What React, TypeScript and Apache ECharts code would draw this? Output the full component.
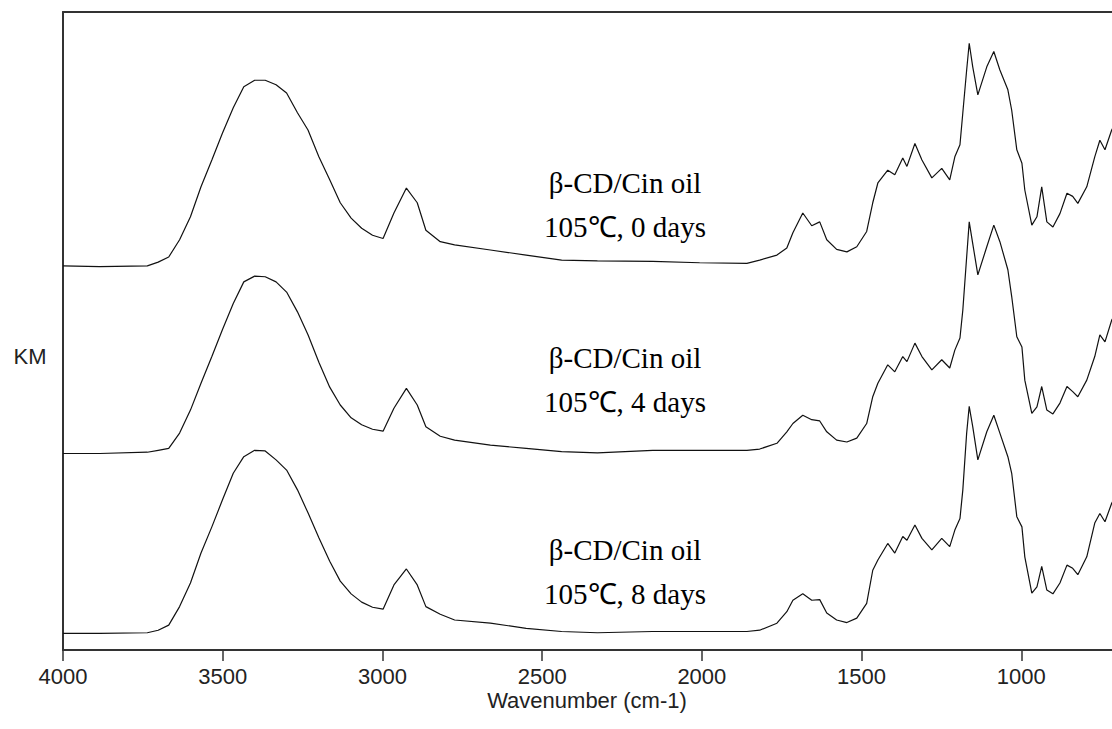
import { useEffect, useRef } from "react";
import * as echarts from "echarts";

// Wavenumber grid (cm-1)
const wavenumbers = [
  4000, 3885, 3736, 3702, 3669, 3635, 3601, 3568, 3534, 3501,
  3467, 3434, 3400, 3367, 3333, 3300, 3266, 3233, 3199, 3165,
  3132, 3098, 3065, 3031, 2998, 2964, 2925, 2891, 2864, 2819,
  2774, 2662, 2550, 2439, 2327,
  2154, 2007, 1859, 1819, 1765, 1734, 1715, 1684, 1656, 1631,
  1609, 1578, 1546, 1515, 1484, 1465, 1449, 1418, 1396, 1371,
  1358, 1333, 1311, 1280, 1249, 1224, 1208, 1192, 1183, 1171,
  1163, 1152, 1136, 1108, 1086, 1067, 1042, 1030, 1014, 998,
  989, 967, 951, 936, 920, 901, 879, 857, 839, 823,
  795, 770, 754, 738, 717, 700,
];

// KM values (offset spectra), 105 ℃ 0 days
const km0days = [
  60.2, 60.1, 60.2, 60.8, 61.6, 64.3, 67.9, 72.6, 76.8, 81.0,
  85.0, 88.3, 89.3, 89.3, 88.6, 87.3, 84.2, 81.5, 77.3, 73.7,
  70.1, 67.7, 66.1, 65.0, 64.5, 68.5, 72.4, 70.1, 65.8, 64.0,
  63.5, 62.7, 61.9, 61.1, 61.0,
  60.9, 60.7, 60.6, 61.1, 61.9, 63.0, 65.4, 68.5, 66.5, 67.1,
  64.3, 62.8, 62.4, 63.2, 65.6, 70.1, 73.2, 75.2, 74.5, 77.1,
  75.8, 79.4, 76.8, 74.0, 75.5, 73.7, 77.3, 79.2, 84.2, 90.9,
  95.1, 91.4, 87.0, 91.4, 93.8, 90.9, 87.8, 84.6, 78.4, 76.3,
  72.1, 66.6, 67.9, 72.6, 67.1, 66.3, 68.4, 71.6, 71.1, 70.0,
  72.6, 77.3, 79.9, 78.4, 81.5, 83.0,
];

// 105 ℃ 4 days
const km4days = [
  30.8, 30.8, 31.0, 31.3, 31.6, 34.0, 37.6, 41.8, 46.0, 50.2,
  54.3, 57.7, 58.6, 58.5, 57.7, 56.1, 53.0, 49.4, 45.1, 41.2,
  38.4, 36.4, 35.3, 34.6, 34.3, 37.9, 41.0, 38.4, 35.0, 33.5,
  32.9, 32.1, 31.6, 31.1, 30.9,
  31.3, 31.3, 31.3, 31.5, 32.4, 34.2, 35.5, 36.8, 36.1, 35.9,
  34.2, 32.9, 32.6, 33.2, 35.5, 39.7, 41.8, 44.7, 43.6, 46.0,
  45.2, 48.1, 46.0, 43.9, 45.5, 44.2, 47.0, 48.9, 53.3, 61.6,
  67.1, 63.7, 58.8, 63.2, 66.6, 64.0, 59.6, 55.4, 49.1, 47.5,
  42.3, 37.1, 38.1, 41.3, 37.6, 37.0, 38.7, 41.3, 40.5, 39.7,
  42.3, 46.0, 49.4, 48.3, 51.7, 53.2,
];

// 105 ℃ 8 days
const km8days = [
  2.6, 2.6, 2.7, 3.1, 3.9, 6.8, 10.5, 15.2, 19.3, 23.5,
  27.7, 30.3, 31.3, 31.2, 29.8, 28.2, 25.1, 21.5, 17.6, 13.9,
  10.8, 8.8, 7.5, 6.7, 6.4, 10.2, 12.7, 10.2, 6.8, 5.6,
  4.7, 4.2, 3.4, 2.9, 2.7,
  2.9, 2.9, 2.9, 3.1, 4.2, 6.0, 7.8, 8.8, 7.8, 7.9,
  5.8, 4.7, 4.3, 5.0, 7.3, 12.5, 14.1, 16.7, 15.2, 17.8,
  17.2, 19.6, 17.5, 15.7, 17.5, 16.2, 18.8, 20.6, 25.1, 34.0,
  38.2, 35.0, 29.8, 34.2, 36.8, 34.0, 30.3, 27.7, 20.9, 19.3,
  14.6, 8.9, 9.9, 13.1, 9.4, 8.8, 10.5, 13.3, 12.8, 11.8,
  14.6, 19.9, 21.4, 20.1, 23.0, 24.5,
];

const sampleName = "β-CD/Cin oil";
const sampleConditions = ["105℃, 0 days", "105℃, 4 days", "105℃, 8 days"];
const xAxisTitle = "Wavenumber (cm-1)";
const yAxisTitle = "KM";

export default function App() {
  const ref = useRef<HTMLDivElement>(null);

  useEffect(() => {
    if (!ref.current) return;
    const chart = echarts.init(ref.current, undefined, { renderer: "svg" });

    const mk = (arr: number[]) => wavenumbers.map((w, i) => [w, arr[i]]);
    const seriesArrays = [km0days, km4days, km8days];

    const labelBaseY = [183, 358, 550];
    const labelGraphics: any[] = [];
    sampleConditions.forEach((cond, i) => {
      labelGraphics.push({
        type: "text",
        x: 625,
        y: labelBaseY[i],
        style: {
          text: sampleName,
          font: "29px 'Liberation Serif', serif",
          fill: "#000",
          align: "center",
          verticalAlign: "middle",
        },
      });
      labelGraphics.push({
        type: "text",
        x: 625,
        y: labelBaseY[i] + 44,
        style: {
          text: cond,
          font: "29px 'Liberation Serif', serif",
          fill: "#000",
          align: "center",
          verticalAlign: "middle",
        },
      });
    });

    const axisColor = "#333";

    chart.setOption({
      animation: false,
      backgroundColor: "#fff",
      grid: {
        left: 63,
        top: 12,
        width: 1118,
        height: 638,
        containLabel: false,
        outerBoundsMode: "none",
      },
      xAxis: [
        {
          type: "value",
          inverse: true,
          min: 500,
          max: 4000,
          interval: 500,
          position: "bottom",
          axisLine: { show: true, onZero: false, lineStyle: { color: axisColor, width: 2 } },
          axisTick: { show: true, length: 11, lineStyle: { color: axisColor, width: 1.5 } },
          axisLabel: {
            show: true,
            color: "#222",
            fontFamily: "'Liberation Sans', Arial, sans-serif",
            fontSize: 22,
            lineHeight: 20,
            margin: 16,
            formatter: (v: number) => (v < 1000 ? "" : String(v)),
          },
          splitLine: { show: false },
        },
        {
          type: "value",
          inverse: true,
          min: 500,
          max: 4000,
          position: "top",
          axisLine: { show: true, onZero: false, lineStyle: { color: axisColor, width: 2 } },
          axisTick: { show: false },
          axisLabel: { show: false },
          splitLine: { show: false },
        },
      ],
      yAxis: {
        type: "value",
        min: 0,
        max: 100,
        axisLine: { show: true, onZero: false, lineStyle: { color: axisColor, width: 2 } },
        axisTick: { show: false },
        axisLabel: { show: false },
        splitLine: { show: false },
      },
      series: seriesArrays.map((arr, i) => ({
        type: "line",
        name: sampleConditions[i],
        data: mk(arr),
        xAxisIndex: 0,
        showSymbol: false,
        symbol: "none",
        lineStyle: { color: "#111", width: 1.2 },
        z: 3,
      })),
      graphic: [
        {
          type: "text",
          x: 30,
          y: 356,
          style: {
            text: yAxisTitle,
            font: "22px 'Liberation Sans', Arial, sans-serif",
            fill: "#222",
            align: "center",
            verticalAlign: "middle",
          },
        },
        {
          type: "text",
          x: 587,
          y: 700,
          style: {
            text: xAxisTitle,
            font: "22px 'Liberation Sans', Arial, sans-serif",
            lineHeight: 20,
            fill: "#222",
            align: "center",
            verticalAlign: "middle",
          },
        },
        ...labelGraphics,
      ],
    });

    return () => chart.dispose();
  }, []);

  return (
    <div
      ref={ref}
      style={{ position: "fixed", left: 0, top: 0, width: 1112, height: 729, background: "#fff" }}
    />
  );
}
